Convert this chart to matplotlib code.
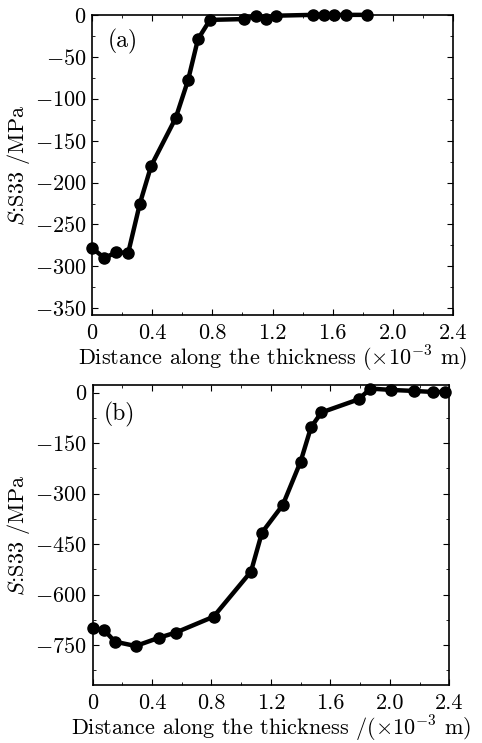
import numpy as np
import matplotlib.pyplot as plt
from matplotlib.ticker import MultipleLocator

plt.rcParams['font.family'] = ['cmr10', 'DejaVu Serif']
plt.rcParams['mathtext.fontset'] = 'cm'
plt.rcParams['axes.formatter.use_mathtext'] = True

# panel (a)
dist_a = [0.0, 0.082, 0.162, 0.24, 0.318, 0.393, 0.556, 0.638, 0.704, 0.784,
          1.011, 1.089, 1.156, 1.222, 1.467, 1.54, 1.611, 1.689, 1.827]
s33_a = [-278, -290, -283, -284, -225, -180, -123, -78, -29, -6,
         -5, -1, -5, -1, 0, 0, 0, 0, 0]

# panel (b)
dist_b = [0.0, 0.077, 0.15, 0.29, 0.45, 0.56, 0.814, 1.066, 1.14, 1.28,
          1.40, 1.47, 1.54, 1.79, 1.87, 2.01, 2.16, 2.29, 2.37]
s33_b = [-700, -705, -740, -753, -728, -713, -666, -532, -416, -334,
         -205, -103, -59, -20, 12, 8, 5, 2, 2]

xt = [0, 0.4, 0.8, 1.2, 1.6, 2.0, 2.4]
xtl = ['0', '0.4', '0.8', '1.2', '1.6', '2.0', '2.4']

fig = plt.figure(figsize=(4.82, 7.43), dpi=100)
ax1 = fig.add_axes([0.191, 0.576, 0.749, 0.404])
ax2 = fig.add_axes([0.192, 0.078, 0.740, 0.404])

for ax, x, y in [(ax1, dist_a, s33_a), (ax2, dist_b, s33_b)]:
    ax.plot(x, y, color='black', lw=3.2, marker='o', ms=8, mec='black', mfc='black',
            clip_on=False)
    ax.set_xlim(0, 2.4)
    ax.set_xticks(xt)
    ax.set_xticklabels(xtl)
    ax.xaxis.set_minor_locator(MultipleLocator(0.2))
    ax.tick_params(which='both', direction='in', top=True, right=True, labelsize=16)
    ax.tick_params(axis='x', pad=6)
    ax.tick_params(axis='y', pad=4)
    ax.tick_params(which='major', length=4)
    ax.tick_params(which='minor', length=2)
    ax.set_ylabel('$S$:S33 /MPa', fontsize=16, labelpad=2)
    for s in ax.spines.values():
        s.set_linewidth(1.2)

ax1.set_ylim(-358, 0)
ax1.yaxis.set_major_locator(MultipleLocator(50))
ax1.yaxis.set_minor_locator(MultipleLocator(25))
ax1.set_xlabel(r'Distance along the thickness ($\times10^{-3}$ m)', fontsize=16, labelpad=1)
ax1.text(0.086, 0.91, '(a)', transform=ax1.transAxes, fontsize=17, ha='center', va='center')

ax2.set_ylim(-869, 23)
ax2.yaxis.set_major_locator(MultipleLocator(150))
ax2.yaxis.set_minor_locator(MultipleLocator(75))
ax2.set_xlabel(r'Distance along the thickness /($\times10^{-3}$ m)', fontsize=16, labelpad=1)
ax2.text(0.076, 0.90, '(b)', transform=ax2.transAxes, fontsize=17, ha='center', va='center')

fig.savefig('out.png', dpi=100)
